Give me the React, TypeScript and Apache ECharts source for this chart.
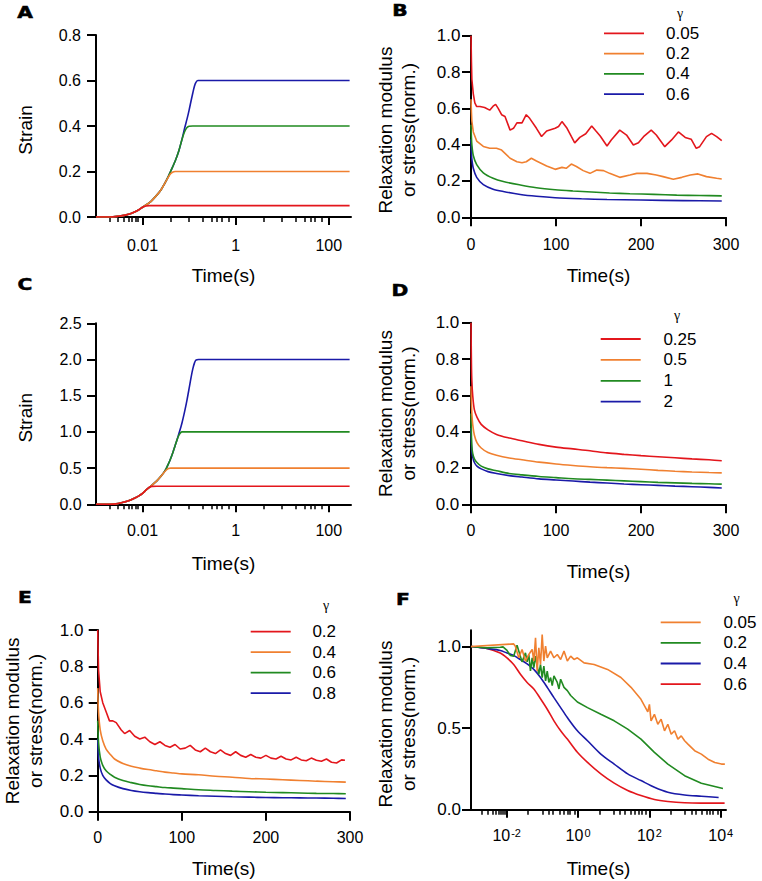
import React, { useEffect, useRef } from 'react';
import * as echarts from 'echarts';

const FONT = '"Liberation Sans", Arial, Helvetica, sans-serif';
const RED = '#e3161c';
const ORANGE = '#f08030';
const GREEN = '#218a21';
const BLUE = '#1a1aa8';

// ---------- Panel A (strain vs log time) ----------
const aRedT = [0.001, 0.002, 0.003, 0.004, 0.005, 0.006, 0.008, 0.01, 0.012, 0.014, 0.02, 0.1, 1, 10, 100, 280];
const aRedV = [0, 0, 0.003, 0.007, 0.012, 0.018, 0.03, 0.043, 0.048, 0.05, 0.05, 0.05, 0.05, 0.05, 0.05, 0.05];
const aOrangeT = [0.001, 0.002, 0.003, 0.004, 0.005, 0.006, 0.008, 0.01, 0.015, 0.02, 0.025, 0.03, 0.035, 0.04, 0.045, 0.05, 0.06, 0.1, 1, 10, 100, 280];
const aOrangeV = [0, 0, 0.003, 0.007, 0.012, 0.018, 0.03, 0.043, 0.068, 0.095, 0.12, 0.148, 0.172, 0.19, 0.198, 0.2, 0.2, 0.2, 0.2, 0.2, 0.2, 0.2];
const aGreenT = [0.001, 0.002, 0.003, 0.004, 0.005, 0.006, 0.008, 0.01, 0.015, 0.02, 0.025, 0.03, 0.035, 0.04, 0.05, 0.06, 0.07, 0.08, 0.09, 0.1, 0.12, 0.2, 1, 10, 100, 280];
const aGreenV = [0, 0, 0.003, 0.007, 0.012, 0.018, 0.03, 0.043, 0.068, 0.095, 0.12, 0.148, 0.174, 0.2, 0.245, 0.29, 0.34, 0.375, 0.393, 0.399, 0.4, 0.4, 0.4, 0.4, 0.4, 0.4];
const aBlueT = [0.001, 0.002, 0.003, 0.004, 0.005, 0.006, 0.008, 0.01, 0.015, 0.02, 0.025, 0.03, 0.035, 0.04, 0.05, 0.06, 0.07, 0.08, 0.09, 0.1, 0.11, 0.12, 0.13, 0.14, 0.155, 0.18, 0.3, 1, 10, 100, 280];
const aBlueV = [0, 0, 0.003, 0.007, 0.012, 0.018, 0.03, 0.043, 0.068, 0.095, 0.12, 0.148, 0.174, 0.2, 0.245, 0.29, 0.34, 0.39, 0.43, 0.47, 0.51, 0.545, 0.575, 0.592, 0.6, 0.6, 0.6, 0.6, 0.6, 0.6, 0.6];

// ---------- Panel C (strain vs log time) ----------
const cRedT = [0.001, 0.002, 0.003, 0.004, 0.005, 0.006, 0.008, 0.01, 0.012, 0.014, 0.016, 0.02, 0.1, 1, 10, 100, 280];
const cRedV = [0, 0, 0.01, 0.03, 0.05, 0.07, 0.11, 0.15, 0.2, 0.235, 0.248, 0.25, 0.25, 0.25, 0.25, 0.25, 0.25];
const cOrangeT = [0.001, 0.002, 0.003, 0.004, 0.005, 0.006, 0.008, 0.01, 0.012, 0.014, 0.016, 0.02, 0.025, 0.028, 0.032, 0.036, 0.04, 0.1, 1, 10, 100, 280];
const cOrangeV = [0, 0, 0.01, 0.03, 0.05, 0.07, 0.11, 0.15, 0.2, 0.235, 0.265, 0.32, 0.39, 0.43, 0.47, 0.495, 0.5, 0.5, 0.5, 0.5, 0.5, 0.5];
const cGreenT = [0.001, 0.002, 0.003, 0.004, 0.005, 0.006, 0.008, 0.01, 0.012, 0.014, 0.016, 0.02, 0.025, 0.028, 0.032, 0.036, 0.04, 0.045, 0.05, 0.055, 0.06, 0.065, 0.07, 0.1, 1, 10, 100, 280];
const cGreenV = [0, 0, 0.01, 0.03, 0.05, 0.07, 0.11, 0.15, 0.2, 0.235, 0.265, 0.32, 0.39, 0.43, 0.49, 0.56, 0.63, 0.72, 0.81, 0.89, 0.95, 0.985, 1.0, 1.0, 1.0, 1.0, 1.0, 1.0];
const cBlueT = [0.001, 0.002, 0.003, 0.004, 0.005, 0.006, 0.008, 0.01, 0.012, 0.014, 0.016, 0.02, 0.025, 0.028, 0.032, 0.036, 0.04, 0.045, 0.05, 0.055, 0.06, 0.07, 0.08, 0.09, 0.1, 0.11, 0.12, 0.13, 0.14, 0.16, 0.3, 1, 10, 100, 280];
const cBlueV = [0, 0, 0.01, 0.03, 0.05, 0.07, 0.11, 0.15, 0.2, 0.235, 0.265, 0.32, 0.39, 0.43, 0.49, 0.56, 0.63, 0.72, 0.81, 0.89, 0.97, 1.12, 1.28, 1.44, 1.6, 1.75, 1.87, 1.95, 1.99, 2.0, 2.0, 2.0, 2.0, 2.0, 2.0];

// ---------- Panel B (relaxation, linear time) ----------
const bRedT = [0, 0.5, 1, 2.7, 4.5, 6.7, 10.6, 16, 22, 26, 29, 32, 36, 40, 46, 50, 54, 60, 65, 69, 77, 83, 89, 99, 103, 107, 113, 118, 122, 128, 135, 142, 147, 152, 160, 165, 175, 183, 191, 197, 203, 212, 218, 228, 236, 244, 252, 259, 265, 269, 277, 283, 289, 295];
const bRedV = [1.0, 0.86, 0.76, 0.68, 0.63, 0.61, 0.61, 0.605, 0.59, 0.612, 0.622, 0.6, 0.565, 0.555, 0.48, 0.49, 0.52, 0.52, 0.565, 0.545, 0.49, 0.445, 0.475, 0.49, 0.5, 0.527, 0.49, 0.445, 0.41, 0.44, 0.46, 0.503, 0.475, 0.448, 0.393, 0.426, 0.48, 0.453, 0.398, 0.41, 0.444, 0.48, 0.453, 0.389, 0.426, 0.47, 0.44, 0.43, 0.38, 0.389, 0.444, 0.462, 0.444, 0.422];
const bOrangeT = [0, 0.5, 1, 2.7, 6.7, 14.5, 22, 30, 36, 46, 54, 60, 65, 71, 77, 89, 99, 107, 112, 118, 124, 132, 140, 148, 156, 163, 175, 187, 195, 207, 218, 226, 238, 248, 258, 267, 277, 289, 295];
const bOrangeV = [0.65, 0.58, 0.53, 0.47, 0.42, 0.39, 0.38, 0.38, 0.37, 0.325, 0.306, 0.3, 0.306, 0.325, 0.31, 0.283, 0.264, 0.275, 0.27, 0.293, 0.28, 0.257, 0.242, 0.26, 0.257, 0.242, 0.22, 0.233, 0.242, 0.242, 0.233, 0.224, 0.21, 0.22, 0.233, 0.239, 0.224, 0.215, 0.211];
const bGreenT = [0, 0.5, 1, 2.7, 6.7, 14.5, 26, 38, 58, 77, 99, 120, 142, 163, 187, 215, 242, 269, 295];
const bGreenV = [0.51, 0.44, 0.4, 0.34, 0.29, 0.245, 0.215, 0.197, 0.178, 0.163, 0.152, 0.145, 0.139, 0.134, 0.13, 0.126, 0.122, 0.12, 0.118];
const bBlueT = [0, 0.5, 1, 2.7, 6.7, 14.5, 26, 38, 58, 77, 99, 130, 160, 200, 250, 295];
const bBlueV = [0.43, 0.36, 0.32, 0.27, 0.22, 0.18, 0.155, 0.142, 0.126, 0.116, 0.108, 0.102, 0.098, 0.095, 0.092, 0.09];
const bLegend = ['0.05', '0.2', '0.4', '0.6'];

// ---------- Panel D ----------
const dTime = [0, 0.5, 1, 2, 4, 7, 12, 20, 30, 45, 60, 80, 100, 120, 140, 160, 180, 200, 220, 240, 260, 280, 295];
const dRedV = [1.0, 0.78, 0.68, 0.6, 0.52, 0.48, 0.44, 0.41, 0.385, 0.365, 0.35, 0.33, 0.315, 0.305, 0.295, 0.283, 0.275, 0.268, 0.262, 0.256, 0.25, 0.245, 0.24];
const dOrangeV = [0.65, 0.56, 0.5, 0.44, 0.38, 0.34, 0.31, 0.285, 0.27, 0.255, 0.245, 0.232, 0.222, 0.214, 0.207, 0.202, 0.198, 0.193, 0.187, 0.182, 0.178, 0.175, 0.173];
const dGreenV = [0.5, 0.38, 0.32, 0.28, 0.25, 0.23, 0.21, 0.195, 0.185, 0.17, 0.162, 0.153, 0.147, 0.141, 0.137, 0.133, 0.129, 0.125, 0.121, 0.118, 0.115, 0.113, 0.111];
const dBlueV = [0.42, 0.33, 0.29, 0.26, 0.23, 0.21, 0.195, 0.18, 0.17, 0.158, 0.15, 0.14, 0.134, 0.128, 0.122, 0.117, 0.112, 0.108, 0.104, 0.1, 0.097, 0.093, 0.09];
const dLegend = ['0.25', '0.5', '1', '2'];

// ---------- Panel E ----------
const eRedT = [0, 1, 3, 6, 10, 14, 18, 22, 28, 32, 38, 44, 50, 56, 62, 68, 74, 80, 86, 92, 98, 104, 110, 116, 122, 128, 134, 140, 146, 152, 158, 164, 170, 176, 182, 188, 194, 200, 206, 212, 218, 224, 230, 236, 242, 248, 254, 260, 266, 272, 278, 284, 290, 294];
const eRedV = [1.0, 0.78, 0.66, 0.6, 0.55, 0.5, 0.5, 0.49, 0.45, 0.43, 0.447, 0.415, 0.4, 0.41, 0.385, 0.37, 0.385, 0.365, 0.355, 0.37, 0.345, 0.35, 0.365, 0.34, 0.33, 0.35, 0.33, 0.32, 0.34, 0.32, 0.31, 0.33, 0.31, 0.3, 0.315, 0.3, 0.295, 0.31, 0.295, 0.29, 0.305, 0.29, 0.285, 0.3, 0.285, 0.28, 0.295, 0.283, 0.278, 0.29, 0.272, 0.268, 0.285, 0.283];
const eTime = [0, 1, 3, 6, 10, 15, 20, 30, 40, 50, 60, 70, 80, 90, 100, 120, 140, 160, 180, 200, 220, 240, 260, 280, 295];
const eOrangeV = [0.68, 0.55, 0.45, 0.39, 0.345, 0.315, 0.29, 0.265, 0.25, 0.24, 0.232, 0.225, 0.218, 0.213, 0.208, 0.203, 0.195, 0.19, 0.183, 0.18, 0.176, 0.172, 0.168, 0.165, 0.163];
const eGreenV = [0.5, 0.38, 0.3, 0.255, 0.225, 0.205, 0.19, 0.172, 0.16, 0.15, 0.143, 0.138, 0.133, 0.13, 0.127, 0.121, 0.117, 0.113, 0.11, 0.107, 0.105, 0.103, 0.101, 0.1, 0.099];
const eBlueV = [0.4, 0.3, 0.24, 0.2, 0.175, 0.155, 0.143, 0.127, 0.117, 0.11, 0.105, 0.101, 0.097, 0.094, 0.092, 0.088, 0.085, 0.082, 0.08, 0.078, 0.077, 0.076, 0.075, 0.074, 0.073];
const eLegend = ['0.2', '0.4', '0.6', '0.8'];

// ---------- Panel F (relaxation, log time) ----------
const fRedT = [0.001, 0.0028, 0.0066, 0.0102, 0.0157, 0.0243, 0.0374, 0.0577, 0.0887, 0.137, 0.211, 0.325, 0.501, 0.958, 1.84, 4.35, 10.3, 24.6, 58, 138, 328, 968, 2850, 12800];
const fRedV = [1.0, 0.988, 0.96, 0.93, 0.89, 0.83, 0.78, 0.74, 0.68, 0.616, 0.545, 0.484, 0.433, 0.352, 0.29, 0.22, 0.163, 0.118, 0.087, 0.063, 0.051, 0.043, 0.041, 0.041];
const fBlueT = [0.001, 0.0028, 0.0066, 0.0102, 0.0157, 0.0243, 0.0374, 0.0577, 0.0887, 0.137, 0.211, 0.325, 0.501, 0.958, 1.84, 4.35, 10.3, 24.6, 58, 138, 328, 968, 2850, 8700];
const fBlueV = [1.0, 0.988, 0.976, 0.96, 0.945, 0.92, 0.894, 0.86, 0.81, 0.75, 0.687, 0.626, 0.565, 0.484, 0.423, 0.341, 0.28, 0.22, 0.179, 0.138, 0.108, 0.091, 0.083, 0.075];
const fGreenT = [0.001, 0.0028, 0.0066, 0.0079, 0.0102, 0.0127, 0.0157, 0.0195, 0.027, 0.0336, 0.0374, 0.0417, 0.0464, 0.0518, 0.0577, 0.0643, 0.0715, 0.0796, 0.0887, 0.0988, 0.11, 0.123, 0.137, 0.152, 0.17, 0.189, 0.211, 0.262, 0.292, 0.325, 0.404, 0.501, 0.621, 0.771, 0.958, 1.84, 4.35, 10.3, 24.6, 58, 138, 328, 968, 2850, 11500];
const fGreenV = [1.0, 0.992, 0.996, 0.998, 0.976, 0.945, 0.941, 1.008, 0.906, 0.961, 0.906, 0.951, 0.85, 0.931, 0.87, 0.941, 0.88, 0.829, 0.89, 0.809, 0.88, 0.789, 0.85, 0.78, 0.81, 0.76, 0.82, 0.78, 0.74, 0.8, 0.75, 0.73, 0.7, 0.68, 0.66, 0.626, 0.585, 0.545, 0.494, 0.433, 0.352, 0.28, 0.209, 0.163, 0.13];
const fOrangeT = [0.001, 0.0157, 0.0175, 0.0218, 0.027, 0.0336, 0.0417, 0.0518, 0.0577, 0.0643, 0.0715, 0.0796, 0.0887, 0.0988, 0.11, 0.123, 0.137, 0.17, 0.211, 0.262, 0.325, 0.404, 0.501, 0.621, 0.771, 0.958, 1.476, 2.82, 6.7, 15.9, 30.5, 58, 90, 100, 111, 138, 172, 213, 265, 328, 408, 506, 628, 780, 968, 1200, 1850, 2850, 4400, 6780, 10440, 13000];
const fOrangeV = [1.0, 1.016, 1.002, 0.931, 0.982, 0.91, 0.951, 0.982, 0.911, 1.053, 0.85, 0.992, 0.89, 1.073, 0.911, 1.002, 0.931, 0.972, 0.931, 0.951, 0.921, 0.972, 0.911, 0.941, 0.921, 0.931, 0.9, 0.89, 0.86, 0.81, 0.75, 0.677, 0.6, 0.646, 0.545, 0.585, 0.524, 0.555, 0.484, 0.524, 0.463, 0.484, 0.433, 0.453, 0.423, 0.402, 0.362, 0.341, 0.31, 0.29, 0.28, 0.28];
const fLegend = ['0.05', '0.2', '0.4', '0.6'];

// ---------- tick values ----------
const logLabelsAC = [0.01, 1, 100];
const logMinorAC = [0.002, 0.003, 0.004, 0.005, 0.006, 0.007, 0.008, 0.04, 0.1, 0.2, 0.3, 0.4, 0.5, 0.7, 4, 10, 20, 30, 40, 50, 70];
const logLabelsF = [0.01, 1, 100, 10000];
const logMinorF = [0.002, 0.003, 0.004, 0.005, 0.006, 0.007, 0.008, 0.009, 0.04, 0.1, 0.15, 0.2, 0.3, 0.4, 0.5, 0.6, 0.8, 4, 10, 15, 20, 30, 40, 50, 60, 80, 400, 1000, 1500, 2000, 3000, 4000, 5000, 6000, 8000];
const fYTicks = [0, 0.5, 1.0];

const zip = (t: number[], v: number[]) => t.map((x, i) => [x, v[i]]);

const axisLine = { show: true, onZero: false, lineStyle: { color: '#000', width: 2 } };
const tick = (len: number, w = 2) => ({ show: true, inside: false, length: len, lineStyle: { color: '#000', width: w } });
const nameStyle = (shift = 0) => ({ fontSize: 19, lineHeight: 22.7, color: '#000', fontFamily: FONT, padding: [0, shift, 0, 0] });

function yAxisFor(gridIndex: number, max: number, interval: number, labelSize: number, margin: number, name: string, nameGap: number, shift: number, custom?: number[]) {
  return {
    type: 'value', gridIndex, min: 0, max, interval,
    axisLine,
    axisTick: custom ? { ...tick(9), customValues: custom } : tick(9),
    axisLabel: custom
      ? { fontSize: labelSize, color: '#000', fontFamily: FONT, margin, formatter: (v: number) => v.toFixed(1), customValues: custom }
      : { fontSize: labelSize, color: '#000', fontFamily: FONT, margin, formatter: (v: number) => v.toFixed(1) },
    splitLine: { show: false },
    name, nameLocation: 'middle', nameRotate: 90, nameGap,
    nameTextStyle: nameStyle(shift),
  };
}

function linX(gridIndex: number, margin: number, nameGap: number) {
  return {
    type: 'value', gridIndex, position: 'bottom', min: 0, max: 300, interval: 100,
    axisLine, axisTick: tick(9),
    axisLabel: { fontSize: 16, color: '#000', fontFamily: FONT, margin },
    splitLine: { show: false },
    name: 'Time(s)', nameLocation: 'middle', nameGap, nameTextStyle: nameStyle(0),
  };
}

function logX(gridIndex: number, min: number, max: number, labels: number[], fmt: (v: number) => string, margin: number, nameGap: number, rich?: any) {
  return {
    type: 'log', logBase: 10, gridIndex, position: 'bottom', min, max,
    axisLine,
    axisTick: { ...tick(8), customValues: labels },
    axisLabel: { customValues: labels, formatter: fmt, fontSize: 16, color: '#000', fontFamily: FONT, margin, rich },
    splitLine: { show: false },
    name: 'Time(s)', nameLocation: 'middle', nameGap, nameTextStyle: nameStyle(0),
  };
}

function minorX(gridIndex: number, min: number, max: number, ticks: number[]) {
  return {
    type: 'log', logBase: 10, gridIndex, position: 'bottom', min, max,
    axisLine: { show: false },
    axisTick: { ...tick(5, 1.5), customValues: ticks },
    axisLabel: { show: false },
    splitLine: { show: false },
  };
}

function line(name: string, xAxisIndex: number, yAxisIndex: number, data: number[][], color: string, smooth: number | boolean) {
  return {
    type: 'line', name, xAxisIndex, yAxisIndex, data, symbol: 'none', showSymbol: false,
    smooth, lineStyle: { color, width: 1.6 }, itemStyle: { color }, silent: true,
  };
}

function legendFor(prefix: string, names: string[], left: number, top: number, gap: number, pad: number) {
  return {
    left, top, orient: 'vertical', padding: 0, itemWidth: 40, itemHeight: 1.8, itemGap: gap,
    icon: 'rect',
    selectedMode: false,
    data: names.map((n) => prefix + ':' + n),
    formatter: (n: string) => n.split(':')[1],
    textStyle: { fontSize: 17, color: '#000', fontFamily: FONT, padding: [0, 0, 0, pad] },
  };
}

function txt(text: string, x: number, y: number, size: number, weight: any, family: string, scaleX = 1, strokeW = 0) {
  return {
    type: 'text', x, y, scaleX, silent: true,
    style: {
      text, fill: '#000', fontSize: size, fontWeight: weight, fontFamily: family,
      stroke: strokeW ? '#000' : undefined, lineWidth: strokeW,
      align: 'center', verticalAlign: 'middle', textAlign: 'center', textVerticalAlign: 'middle',
    },
  };
}

const LETTER_FONT = '"DejaVu Sans", "Liberation Sans", sans-serif';
const GREEK_FONT = '"Liberation Serif", "DejaVu Serif", serif';

function buildOption() {
  const fmtAC = (v: number) => (v < 1 ? String(v) : String(Math.round(v)));
  const fmtF = (v: number) => '10{sup|' + Math.round(Math.log10(v)) + '}';
  const richF = { sup: { fontSize: 11, verticalAlign: 'top', fontFamily: FONT, color: '#000', padding: [0, 0, 0, 1] } };
  return {
    animation: false,
    backgroundColor: '#fff',
    textStyle: { fontFamily: FONT },
    grid: [
      { left: 96, top: 35, width: 255, height: 182 },
      { left: 471, top: 35.7, width: 255, height: 181.6 },
      { left: 96, top: 323.3, width: 255, height: 181 },
      { left: 471, top: 322.7, width: 255, height: 181.6 },
      { left: 96, top: 630, width: 254, height: 181.7 },
      { left: 471, top: 630.2, width: 255, height: 181.1 },
    ],
    xAxis: [
      logX(0, 0.001, 300, logLabelsAC, fmtAC, 20, 47), // 0 A
      minorX(0, 0.001, 300, logMinorAC), // 1 A minor
      linX(1, 19, 46.5), // 2 B
      logX(2, 0.001, 300, logLabelsAC, fmtAC, 18.5, 48), // 3 C
      minorX(2, 0.001, 300, logMinorAC), // 4 C minor
      linX(3, 17.7, 56), // 5 D
      linX(4, 17.8, 45.5), // 6 E
      logX(5, 0.001, 14000, logLabelsF, fmtF, 18, 47.5, richF), // 7 F
      minorX(5, 0.001, 14000, logMinorF), // 8 F minor
    ],
    yAxis: [
      yAxisFor(0, 0.8, 0.2, 16, 15, 'Strain', 59, 8),
      yAxisFor(1, 1.0, 0.2, 17, 10.5, 'Relaxation modulus\nor stress(norm.)', 51.3, 7),
      yAxisFor(2, 2.5, 0.5, 16, 14.3, 'Strain', 59, 8),
      yAxisFor(3, 1.0, 0.2, 17, 11.7, 'Relaxation modulus\nor stress(norm.)', 51.3, 0),
      yAxisFor(4, 1.0, 0.2, 17, 14.3, 'Relaxation modulus\nor stress(norm.)', 51.3, 0),
      yAxisFor(5, 1.1, 0.5, 17, 10, 'Relaxation modulus\nor stress(norm.)', 51.3, 8, fYTicks),
    ],
    legend: [
      legendFor('B', bLegend, 604, 24.8, 3.3, 17),
      legendFor('D', dLegend, 600.7, 330.5, 3.9, 17.7),
      legendFor('E', eLegend, 250.7, 623.2, 3.5, 16.7),
      legendFor('F', fLegend, 660.7, 613.8, 3.6, 17.7),
    ],
    graphic: [
      txt('A', 25, 12.5, 15, 'bold', LETTER_FONT, 1.35, 0.5),
      txt('B', 400, 11, 15, 'bold', LETTER_FONT, 1.35, 0.5),
      txt('C', 25, 285, 15, 'bold', LETTER_FONT, 1.35, 0.5),
      txt('D', 400, 291, 15, 'bold', LETTER_FONT, 1.35, 0.5),
      txt('E', 25, 598, 15, 'bold', LETTER_FONT, 1.35, 0.5),
      txt('F', 403, 600, 15, 'bold', LETTER_FONT, 1.35, 0.5),
      txt('γ', 680, 13, 14, 'normal', GREEK_FONT),
      txt('γ', 677, 315, 14, 'normal', GREEK_FONT),
      txt('γ', 326, 605, 14, 'normal', GREEK_FONT),
      txt('γ', 736.7, 598.3, 14, 'normal', GREEK_FONT),
    ],
    series: [
      // A
      line('A:0.6', 0, 0, zip(aBlueT, aBlueV), BLUE, 0.3),
      line('A:0.4', 0, 0, zip(aGreenT, aGreenV), GREEN, 0.3),
      line('A:0.2', 0, 0, zip(aOrangeT, aOrangeV), ORANGE, 0.3),
      line('A:0.05', 0, 0, zip(aRedT, aRedV), RED, 0.3),
      // B
      line('B:0.6', 2, 1, zip(bBlueT, bBlueV), BLUE, 0.3),
      line('B:0.4', 2, 1, zip(bGreenT, bGreenV), GREEN, 0.3),
      line('B:0.2', 2, 1, zip(bOrangeT, bOrangeV), ORANGE, false),
      line('B:0.05', 2, 1, zip(bRedT, bRedV), RED, false),
      // C
      line('C:2', 3, 2, zip(cBlueT, cBlueV), BLUE, 0.3),
      line('C:1', 3, 2, zip(cGreenT, cGreenV), GREEN, 0.3),
      line('C:0.5', 3, 2, zip(cOrangeT, cOrangeV), ORANGE, 0.3),
      line('C:0.25', 3, 2, zip(cRedT, cRedV), RED, 0.3),
      // D
      line('D:2', 5, 3, zip(dTime, dBlueV), BLUE, 0.3),
      line('D:1', 5, 3, zip(dTime, dGreenV), GREEN, 0.3),
      line('D:0.5', 5, 3, zip(dTime, dOrangeV), ORANGE, 0.3),
      line('D:0.25', 5, 3, zip(dTime, dRedV), RED, 0.3),
      // E
      line('E:0.8', 6, 4, zip(eTime, eBlueV), BLUE, 0.3),
      line('E:0.6', 6, 4, zip(eTime, eGreenV), GREEN, 0.3),
      line('E:0.4', 6, 4, zip(eTime, eOrangeV), ORANGE, 0.3),
      line('E:0.2', 6, 4, zip(eRedT, eRedV), RED, false),
      // F
      line('F:0.6', 7, 5, zip(fRedT, fRedV), RED, 0.3),
      line('F:0.4', 7, 5, zip(fBlueT, fBlueV), BLUE, 0.3),
      line('F:0.2', 7, 5, zip(fGreenT, fGreenV), GREEN, false),
      line('F:0.05', 7, 5, zip(fOrangeT, fOrangeV), ORANGE, false),
    ],
  };
}

export default function App() {
  const ref = useRef<HTMLDivElement>(null);
  useEffect(() => {
    if (!ref.current) return;
    const chart = echarts.init(ref.current, undefined, { renderer: 'svg' });
    chart.setOption(buildOption() as any);
    return () => chart.dispose();
  }, []);
  return (
    <div
      ref={ref}
      style={{ position: 'absolute', left: 0, top: 0, width: 762, height: 881, background: '#fff' }}
    />
  );
}
